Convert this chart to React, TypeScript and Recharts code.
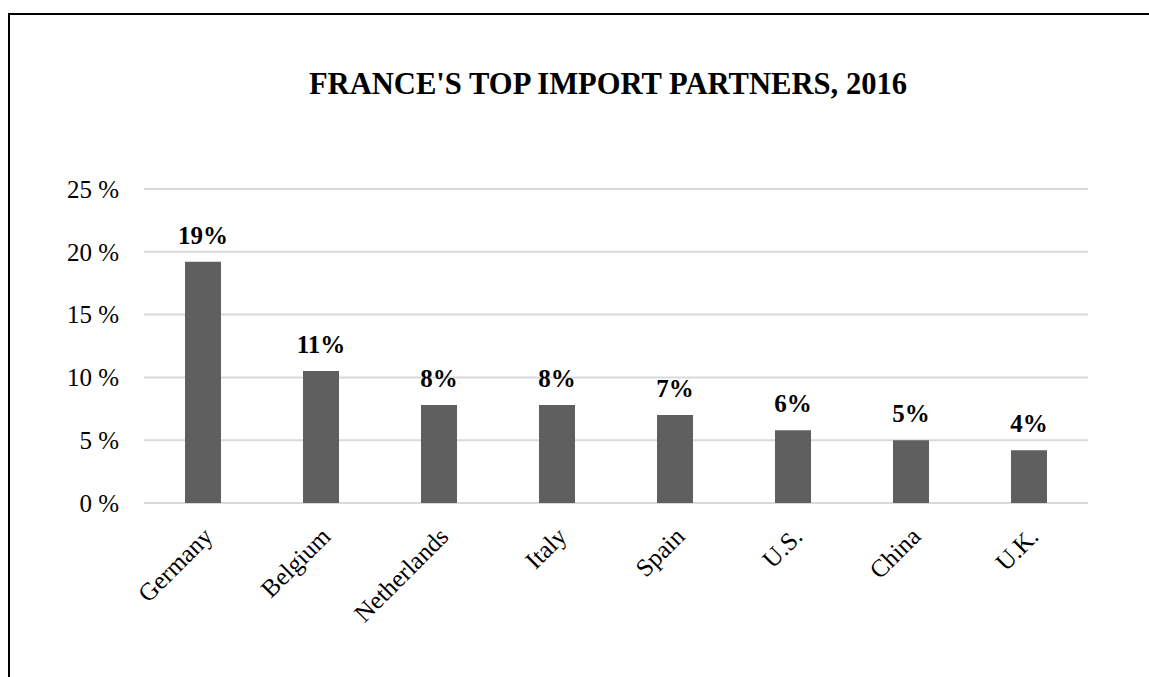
import { Bar, BarChart, CartesianGrid, LabelList, XAxis, YAxis } from 'recharts'

// France's top import partners, 2016 (share of total imports, %)
const partners = ['Germany', 'Belgium', 'Netherlands', 'Italy', 'Spain', 'U.S.', 'China', 'U.K.']
const importShare = [19.2, 10.5, 7.8, 7.8, 7.0, 5.8, 5.0, 4.2]
const yTicks = [0, 5, 10, 15, 20, 25]

const data = partners.map((name, i) => ({ name, share: importShare[i] }))

const FONT = '"Liberation Serif", "Times New Roman", Times, serif'
const BAR = '#5f5f5f'
const GRID = '#d9d9d9'

function CategoryTick({ x, y, payload }: any) {
  const tx = x + 11
  const ty = y + 35
  return (
    <text
      x={tx}
      y={ty}
      transform={`rotate(-45 ${tx} ${ty})`}
      textAnchor="end"
      fontSize={25}
      fontFamily={FONT}
      fill="#000"
    >
      {payload.value}
    </text>
  )
}

export default function App() {
  return (
    <div
      style={{
        position: 'absolute',
        left: 0,
        top: 0,
        width: 1149,
        height: 677,
        overflow: 'hidden',
        background: '#fff',
        fontFamily: FONT,
      }}
    >
      {/* frame edges of the original chart box (only top and left are in view) */}
      <div style={{ position: 'absolute', left: 8, top: 13, width: 1141, height: 2, background: '#000' }} />
      <div style={{ position: 'absolute', left: 8, top: 13, width: 2, height: 664, background: '#000' }} />
      <div
        style={{
          position: 'absolute',
          left: 608,
          top: 69,
          transform: 'translateX(-50%)',
          whiteSpace: 'nowrap',
          fontSize: 30.6,
          lineHeight: '30px',
          fontWeight: 'bold',
          color: '#000',
        }}
      >
        FRANCE'S TOP IMPORT PARTNERS, 2016
      </div>
      <div style={{ position: 'absolute', left: 0, top: 0 }}>
        <BarChart
          width={1149}
          height={677}
          data={data}
          margin={{ top: 189, right: 61, bottom: 0, left: 0 }}
        >
          <CartesianGrid vertical={false} stroke={GRID} strokeWidth={2} />
          <XAxis
            dataKey="name"
            height={174}
            interval={0}
            axisLine={false}
            tickLine={false}
            tickSize={0}
            tickMargin={0}
            tick={<CategoryTick />}
          />
          <YAxis
            width={144}
            domain={[0, 25]}
            ticks={yTicks}
            tickFormatter={(v: number) => `${v} %`}
            axisLine={false}
            tickLine={false}
            tickSize={0}
            tickMargin={25}
            tick={{ fontSize: 25, fill: '#000', fontFamily: FONT }}
          />
          <Bar dataKey="share" fill={BAR} barSize={36} isAnimationActive={false}>
            <LabelList
              dataKey="share"
              position="top"
              offset={18}
              formatter={(v: any) => `${Math.round(Number(v))}%`}
              fontSize={25}
              fontWeight="bold"
              fontFamily={FONT}
              fill="#000"
            />
          </Bar>
        </BarChart>
      </div>
    </div>
  )
}
